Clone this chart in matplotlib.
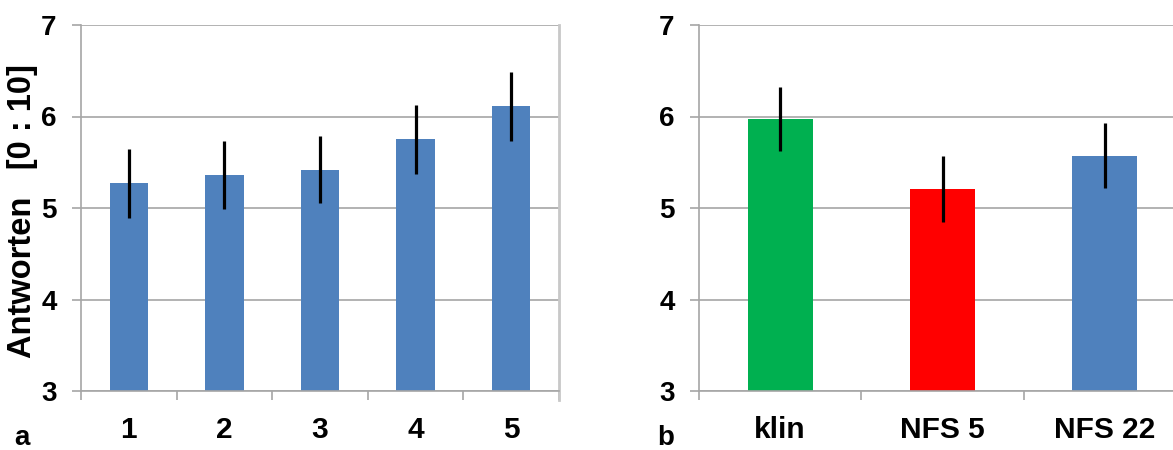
import matplotlib.pyplot as plt
import numpy as np

plt.rcParams['font.family'] = ['Liberation Sans', 'DejaVu Sans']
plt.rcParams['font.weight'] = 'bold'

# panel a
cats_a = ['1', '2', '3', '4', '5']
vals_a = [5.27, 5.36, 5.42, 5.75, 6.11]
errs_a = [0.38, 0.375, 0.37, 0.375, 0.375]

# panel b
cats_b = ['klin', 'NFS 5', 'NFS 22']
vals_b = [5.97, 5.21, 5.57]
errs_b = [0.35, 0.36, 0.355]
cols_b = ['#00B050', '#FF0000', '#4F81BD']

fig = plt.figure(figsize=(11.73, 4.5), dpi=100)
W, H = 1173, 450


def style(ax, n, labels):
    ax.set_ylim(3, 7)
    ax.set_xlim(0, n)
    ax.set_yticks([3, 4, 5, 6, 7])
    ax.yaxis.grid(True, color='#a6a6a6', lw=1.2)
    ax.set_axisbelow(True)
    for s in ['top', 'right']:
        ax.spines[s].set_visible(False)
    ax.spines['left'].set_color('#a6a6a6')
    ax.spines['bottom'].set_color('#a6a6a6')
    ax.spines['left'].set_linewidth(1.2)
    ax.spines['bottom'].set_linewidth(1.2)
    ax.tick_params(axis='y', length=6.5, color='#a6a6a6', width=1.2,
                   pad=11, labelsize=20)
    ax.set_xticks(np.arange(n) + 0.5)
    ax.set_xticklabels(labels)
    ax.set_xticks(np.arange(n + 1), minor=True)
    ax.tick_params(axis='x', which='major', length=0, pad=18, labelsize=21.5)
    ax.tick_params(axis='x', which='minor', length=6.5, color='#a6a6a6',
                   width=1.2)
    for t in ax.get_yticklabels() + ax.get_xticklabels():
        t.set_fontweight('bold')


axa = fig.add_axes([81 / W, (H - 391) / H, 478 / W, 366 / H])
xa = np.arange(len(cats_a)) + 0.5
axa.bar(xa, [v - 3 for v in vals_a], bottom=3, width=0.4, color='#4F81BD')
axa.errorbar(xa, vals_a, yerr=errs_a, fmt='none', ecolor='black',
             elinewidth=2.3, capsize=0)
style(axa, len(cats_a), cats_a)
axa.axvline(len(cats_a), ymin=-0.025, ymax=1, color='#c8c8c8', lw=2,
            clip_on=False)

fig.text(23 / W, 1 - 211 / H, 'Antworten   [0 : 10]', fontsize=23.5,
         fontweight='bold', rotation=90, ha='center', va='center')

axb = fig.add_axes([699 / W, (H - 391) / H, 487 / W, 366 / H])
xb = np.arange(len(cats_b)) + 0.5
axb.bar(xb, [v - 3 for v in vals_b], bottom=3, width=0.4, color=cols_b)
axb.errorbar(xb, vals_b, yerr=errs_b, fmt='none', ecolor='black',
             elinewidth=2.3, capsize=0)
style(axb, len(cats_b), cats_b)

fig.text(14 / W, 1 - 445 / H, 'a', fontsize=20, fontweight='bold',
         va='baseline', ha='left')
fig.text(657 / W, 1 - 445 / H, 'b', fontsize=20, fontweight='bold',
         va='baseline', ha='left')

fig.savefig('out.png', dpi=100)
